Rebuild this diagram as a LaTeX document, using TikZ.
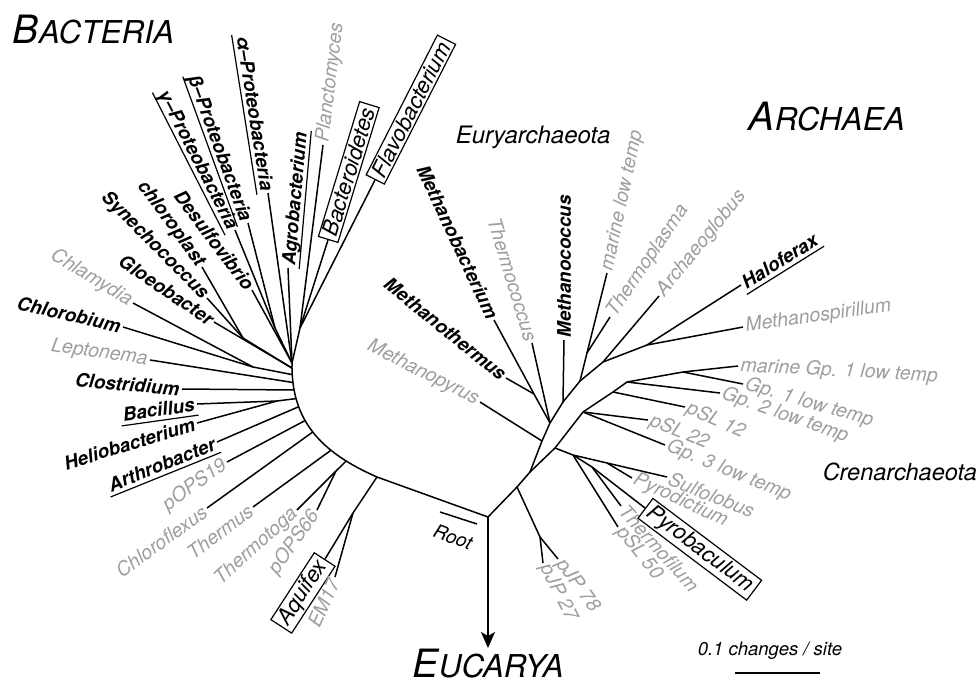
\documentclass[tikz,border=0pt]{standalone}
\usepackage{fontspec}
\setmainfont{TeX Gyre Heros}
\usetikzlibrary{arrows.meta}
\definecolor{leafgray}{RGB}{158,158,158}
\newcommand{\grouptitle}[2]{{\fontsize{39}{40}\selectfont #1}{\fontsize{31.5}{33}\selectfont #2}}

\begin{document}
\begin{tikzpicture}[x=1pt, y=-1pt, line width=1.5pt]
  \tikzstyle{leafg}=[text=leafgray, inner sep=2pt, font=\fontsize{19.5}{21}\selectfont\itshape]
  \tikzstyle{leafb}=[inner sep=2pt, font=\fontsize{18.8}{20}\selectfont\bfseries\itshape]
  \tikzstyle{leafu}=[leafb, text depth=0pt, inner ysep=3.5pt,
    append after command={\pgfextra{\draw[line width=1.2pt] (\tikzlastnode.south west) -- (\tikzlastnode.south east);}}]
  \tikzstyle{leafbox}=[draw, line width=1.2pt, inner xsep=4pt, inner ysep=2pt, font=\fontsize{22}{24}\selectfont\itshape]
  \tikzstyle{title}=[inner sep=0pt, font=\itshape]

  \useasboundingbox (0,0) rectangle (980,681);

  % branch points
  \foreach \n/\x/\y in {R/488/517, euc/488/648, b0/377/477, bt/292/363, k1/320/452, k2/291/420,
      qa/353/513, tp/336/471, bh/277/401, cc/253/367, sc/243/338, rc/300/328, bg/275/328,
      a1/517/487, a2/530/472, ep/542/441, e0/550/423, mt/534/394, e1/563/402, e2/580/381,
      ml/587/353, e3/603/362, e4/647/345, c1/555/448, c2/583/412, c3/613/392, c4/627/382,
      mg/683/372, cs/573/455, sp/607/463, pt/592/467, pj/540/537,
      rb1/440/512, rb2/477/524, sb1/735/673, sb2/820/673}
    \coordinate (\n) at (\x,\y);

  % branch tips
  \foreach \n/\x/\y in {gam/235/230, bet/248/223, alp/268/193, des/252/290, chl/202/267,
      syn/207/298, glo/214/322, cla/133/303, clb/123/327, lep/150/360, clo/182/389,
      bac/197/404, hel/197/423, art/217/442, po19/227/462, cfx/207/508, thu/253/507,
      tht/297/510, po66/317/510, aqu/325/559, em/335/577, pla/323/145, bcd/328/240,
      fla/375/180, agr/288/268,
      mpy/480/402, mth/506/378, mba/494/320, tco/532/343, mco/564/340, mlt/607/273,
      tpl/610/317, arc/659/296, hal/741/285, msp/743/327, mg1/738/366, g1/743/384,
      g2/720/393, p12/685/407, p22/648/420, g3/665/445, sul/667/477, pyd/632/478,
      pyb/645/508, tfl/621/506, p50/618/527, j78/558/559, j27/543/563}
    \coordinate (\n) at (\x,\y);

  % bacterial backbone
  \draw (R) -- (b0) .. controls (k1) and (k2) .. (bt)
    coordinate[pos=0.2] (jtt) coordinate[pos=0.32] (jth) coordinate[pos=0.5] (jcf)
    coordinate[pos=0.6] (jpo) coordinate[pos=0.71] (jar) coordinate[pos=0.77] (jbh)
    coordinate[pos=0.83] (jcl) coordinate[pos=0.88] (jle) coordinate[pos=0.93] (jcc)
    coordinate[pos=0.97] (jgs);

  \draw
    (b0) -- (qa)
    (jtt) -- (tp)
    (jbh) -- (bh)
    (jcc) -- (cc)
    (jgs) -- (sc)
    (bt) -- (rc)
    (bt) -- (bg);

  % archaeal backbone
  \draw (R) -- (a1) -- (a2) -- (ep) -- (e0) -- (e1) -- (e2) -- (e3) -- (e4);
  \draw (a2) -- (c1) -- (c2) -- (c3) -- (c4);
  \draw
    (a1) -- (pj)
    (c1) -- (cs)
    (cs) -- (sp)
    (cs) -- (pt)
    (e0) -- (mt)
    (e2) -- (ml)
    (c4) -- (mg);

  % tips named towards the branch end
  \foreach \from/\to/\sty/\rot/\txt in {
      bg/gam/leafu/-63/γ–Proteobacteria, bg/bet/leafu/-70/β–Proteobacteria,
      bt/alp/leafu/-81/α–Proteobacteria, bt/des/leafb/-53/Desulfovibrio,
      sc/chl/leafb/-54/chloroplast, sc/syn/leafb/-45/Synechococcus,
      jgs/glo/leafb/-34/Gloeobacter, cc/cla/leafg/-31/Chlamydia,
      cc/clb/leafb/-13/Chlorobium, jle/lep/leafg/-8/Leptonema,
      jcl/clo/leafb/-5/Clostridium, bh/bac/leafu/8/Bacillus,
      bh/hel/leafb/17/Heliobacterium, jar/art/leafu/22/Arthrobacter,
      jpo/po19/leafg/36/pOPS19, jcf/cfx/leafg/36/Chloroflexus,
      jth/thu/leafg/37/Thermus, tp/tht/leafg/42/Thermotoga,
      tp/po66/leafg/55/pOPS66, qa/aqu/leafbox/57/Aquifex, qa/em/leafg/66/EM17,
      ep/mpy/leafg/-27/Methanopyrus, mt/mth/leafb/-39/Methanothermus,
      mt/mba/leafb/-65/Methanobacterium, e0/tco/leafg/-73/Thermococcus}
  {
    \draw (\from) -- (\to);
    \node[\sty, rotate=\rot, anchor=east] (l-\to) at (\to) {\txt};
  }

  % tips named away from the branch end
  \foreach \from/\to/\sty/\rot/\txt in {
      rc/pla/leafg/83/Planctomyces, rc/bcd/leafbox/73/Bacteroidetes,
      rc/fla/leafbox/63/Flavobacterium, bt/agr/leafu/85/Agrobacterium,
      e1/mco/leafb/90/Methanococcus, ml/mlt/leafg/78/marine low temp,
      ml/tpl/leafg/56/Thermoplasma, e3/arc/leafg/51/Archaeoglobus,
      e4/hal/leafu/32/Haloferax, e4/msp/leafg/8/Methanospirillum,
      mg/mg1/leafg/-3/marine Gp. 1 low temp, mg/g1/leafg/-16/Gp. 1 low temp,
      c4/g2/leafg/-19/Gp. 2 low temp, c3/p12/leafg/-24/pSL 12,
      c2/p22/leafg/-22/pSL 22, c2/g3/leafg/-22/Gp. 3 low temp,
      sp/sul/leafg/-22/Sulfolobus, sp/pyd/leafg/-25/Pyrodictium,
      pt/pyb/leafbox/-37/Pyrobaculum, pt/tfl/leafg/-48/Thermofilum,
      cs/p50/leafg/-51/pSL 50, pj/j78/leafg/-54/pJP 78, pj/j27/leafg/-63/pJP 27}
  {
    \draw (\from) -- (\to);
    \node[\sty, rotate=\rot, anchor=west] (l-\to) at (\to) {\txt};
  }

  % root and scale
  \draw[-{Stealth[length=16pt, width=14pt, inset=4pt]}] (R) -- (euc);
  \draw (rb1) -- (rb2);
  \node[rotate=-20, inner sep=0pt, font=\fontsize{19}{21}\selectfont\itshape] (root) at (453,537) {Root};
  \draw (sb1) -- (sb2);
  \node[title, anchor=base west, font=\fontsize{18.5}{20}\selectfont\itshape] (scale) at (697,655) {0.1 changes / site};

  % group names
  \node[title, anchor=base west] (bact) at (12,43) {\grouptitle{B}{ACTERIA}};
  \node[title, anchor=base west] (arch) at (748,130) {\grouptitle{A}{RCHAEA}};
  \node[title, anchor=base west] (euca) at (412,677) {\grouptitle{E}{UCARYA}};
  \node[title, anchor=base west, font=\fontsize{24}{26}\selectfont\itshape] (eury) at (455,143) {Euryarchaeota};
  \node[title, anchor=base west, font=\fontsize{23.5}{25}\selectfont\itshape] (cren) at (822,480) {Crenarchaeota};
\end{tikzpicture}
\end{document}
